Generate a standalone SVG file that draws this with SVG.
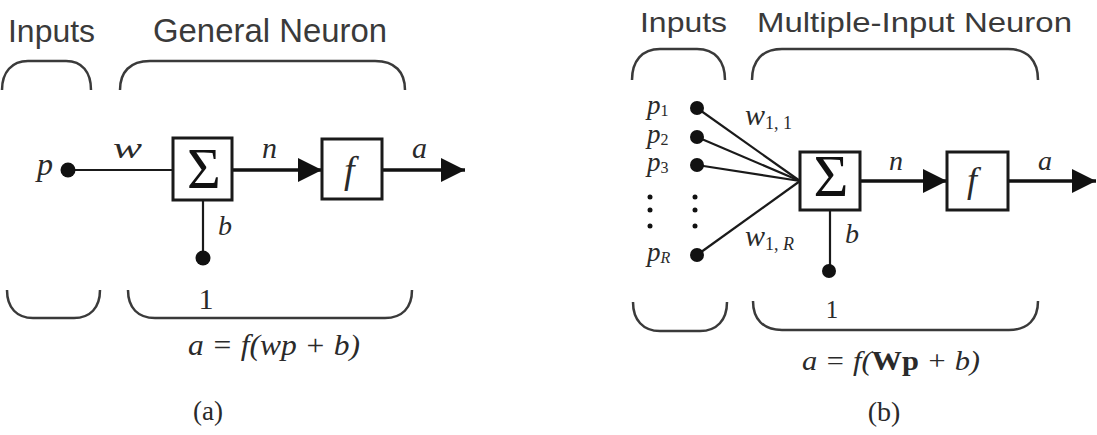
<svg xmlns="http://www.w3.org/2000/svg" width="1097" height="435" viewBox="0 0 1097 435">
<style>
.title{font-family:"Liberation Sans",Arial,sans-serif;fill:#3a3a3a}
.it{font-family:"Liberation Serif","Times New Roman",serif;font-style:italic;fill:#2a2a2a}
.rm{font-family:"Liberation Serif","Times New Roman",serif;fill:#2a2a2a}
.brace{fill:none;stroke:#3a3a3a;stroke-width:2.5}
.box{fill:#fff;stroke:#1a1a1a;stroke-width:3}
.wire{stroke:#1a1a1a;stroke-width:2.2;fill:none}
.arrow{stroke:#111;stroke-width:3.5;fill:none;marker-end:url(#ah)}
.dot{fill:#111}
.sig{font-family:"Liberation Serif","Times New Roman",serif;fill:#111;text-anchor:middle}
</style>
<defs>
<marker id="ah" markerUnits="userSpaceOnUse" markerWidth="26" markerHeight="26" refX="24" refY="12" orient="auto">
<path d="M0,0 L24,12 L0,24 z" fill="#111"/>
</marker>
</defs>
<rect width="1097" height="435" fill="#fff"/>

<!-- Panel (a) -->
<g id="a-titles">
<text class="title" x="8" y="42" font-size="32" textLength="87" lengthAdjust="spacingAndGlyphs">Inputs</text>
<text class="title" x="153" y="42" font-size="33" textLength="234" lengthAdjust="spacingAndGlyphs">General Neuron</text>
</g>
<g id="a-braces">
<path class="brace" d="M2,90 C2,72 12,61 28,61 L66,61 C82,61 91,72 91,90"/>
<path class="brace" d="M120,90 C120,72 130,61 150,61 L375,61 C395,61 405,72 405,90"/>
<path class="brace" d="M7,290 C7,308 17,318 33,318 L74,318 C90,318 100,308 100,290"/>
<path class="brace" d="M128,290 C128,308 138,318 155,318 L385,318 C402,318 412,308 412,290"/>
</g>
<g id="a-connectors">
<line class="wire" x1="68" y1="170" x2="173" y2="170"/>
<line class="arrow" x1="232" y1="170" x2="322" y2="170"/>
<line class="arrow" x1="382" y1="170" x2="465" y2="170"/>
<line class="wire" x1="203" y1="200" x2="203" y2="258" stroke-width="2.5"/>
</g>
<g id="a-input">
<circle class="dot" cx="68" cy="170" r="7.5"/>
<text class="it" x="37" y="175" font-size="32">p</text>
<text class="it" x="113" y="158" font-size="30" textLength="29" lengthAdjust="spacingAndGlyphs">w</text>
</g>
<g id="a-sum">
<rect class="box" x="173" y="138" width="59" height="62"/>
<text class="sig" x="204" y="188" font-size="58">Σ</text>
<text class="it" x="262" y="158" font-size="30">n</text>
</g>
<g id="a-transfer">
<rect class="box" x="322" y="139" width="60" height="60"/>
<text class="it" x="344" y="183" font-size="38">f</text>
<text class="it" x="412" y="158" font-size="30">a</text>
</g>
<g id="a-bias">
<circle class="dot" cx="203" cy="258" r="7.5"/>
<text class="it" x="218" y="235" font-size="28">b</text>
<text class="rm" x="206" y="309" font-size="30" text-anchor="middle">1</text>
</g>
<g id="a-formula">
<text class="it" x="188" y="355" font-size="30" textLength="172" lengthAdjust="spacingAndGlyphs">a = f(wp + b)</text>
<text class="rm" x="208" y="420" font-size="27" text-anchor="middle">(a)</text>
</g>

<!-- Panel (b) -->
<g id="b-titles">
<text class="title" x="640" y="32" font-size="28" textLength="87" lengthAdjust="spacingAndGlyphs">Inputs</text>
<text class="title" x="757" y="32" font-size="28" textLength="315" lengthAdjust="spacingAndGlyphs">Multiple-Input Neuron</text>
</g>
<g id="b-braces">
<path class="brace" d="M632,80 C632,61 642,49 660,49 L697,49 C715,49 725,61 725,80"/>
<path class="brace" d="M752,80 C752,61 762,49 782,49 L1008,49 C1028,49 1038,61 1038,80"/>
<path class="brace" d="M633,302 C633,320 643,331 660,331 L700,331 C717,331 727,320 727,302"/>
<path class="brace" d="M753,301 C753,319 763,330 782,330 L1009,330 C1028,330 1038,319 1038,301"/>
</g>
<g id="b-connectors">
<line class="wire" x1="697" y1="108" x2="800" y2="181"/>
<line class="wire" x1="697" y1="137" x2="800" y2="181"/>
<line class="wire" x1="697" y1="165" x2="800" y2="181"/>
<line class="wire" x1="697" y1="255" x2="800" y2="181"/>
<line class="arrow" x1="860" y1="181" x2="947" y2="181"/>
<line class="arrow" x1="1008" y1="181" x2="1096" y2="181"/>
<line class="wire" x1="830" y1="210" x2="830" y2="271" stroke-width="2.5"/>
</g>
<g id="b-inputs">
<circle class="dot" cx="697" cy="108" r="7"/>
<circle class="dot" cx="697" cy="137" r="7"/>
<circle class="dot" cx="697" cy="165" r="7"/>
<circle class="dot" cx="697" cy="255" r="7"/>
<circle class="dot" cx="650" cy="197" r="2.5"/>
<circle class="dot" cx="650" cy="210" r="2.5"/>
<circle class="dot" cx="650" cy="226" r="2.5"/>
<circle class="dot" cx="695" cy="197" r="2.5"/>
<circle class="dot" cx="695" cy="210" r="2.5"/>
<circle class="dot" cx="695" cy="226" r="2.5"/>
<text class="it" x="647" y="114" font-size="27">p<tspan class="rm" font-style="normal" font-size="16" dy="2">1</tspan></text>
<text class="it" x="647" y="143" font-size="27">p<tspan class="rm" font-style="normal" font-size="16" dy="2">2</tspan></text>
<text class="it" x="647" y="171" font-size="27">p<tspan class="rm" font-style="normal" font-size="16" dy="2">3</tspan></text>
<text class="it" x="647" y="261" font-size="27">p<tspan font-size="16" dy="2">R</tspan></text>
<text class="it" x="745" y="125" font-size="30">w<tspan class="rm" font-style="normal" font-size="18" dy="4">1, 1</tspan></text>
<text class="it" x="745" y="246" font-size="30">w<tspan class="rm" font-style="normal" font-size="18" dy="4">1, </tspan><tspan font-size="18">R</tspan></text>
</g>
<g id="b-sum">
<rect class="box" x="800" y="152" width="60" height="58"/>
<text class="sig" x="831" y="196" font-size="60">Σ</text>
<text class="it" x="889" y="170" font-size="28">n</text>
</g>
<g id="b-transfer">
<rect class="box" x="947" y="152" width="61" height="58"/>
<text class="it" x="967" y="192" font-size="36">f</text>
<text class="it" x="1038" y="170" font-size="28">a</text>
</g>
<g id="b-bias">
<circle class="dot" cx="829" cy="271" r="7"/>
<text class="it" x="845" y="243" font-size="28">b</text>
<text class="rm" x="832" y="318" font-size="25" text-anchor="middle">1</text>
</g>
<g id="b-formula">
<text class="it" x="802" y="370" font-size="28" textLength="178" lengthAdjust="spacingAndGlyphs">a = f(<tspan font-style="normal" font-weight="bold">Wp</tspan> + b)</text>
<text class="rm" x="884" y="421" font-size="28" text-anchor="middle">(b)</text>
</g>
</svg>
